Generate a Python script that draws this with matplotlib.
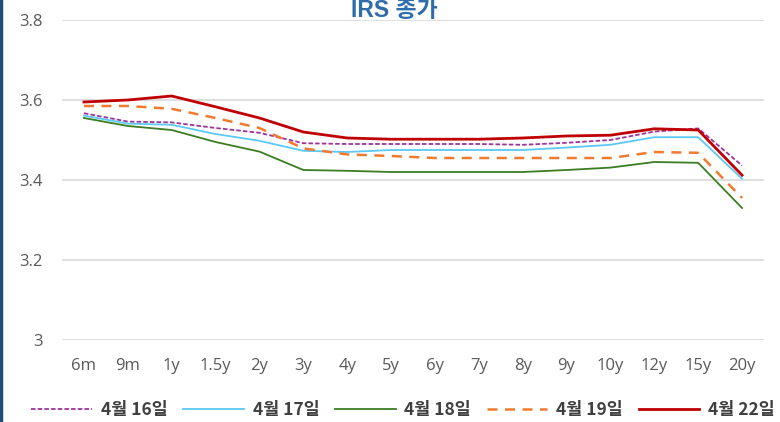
import matplotlib
matplotlib.use("Agg")
import matplotlib.pyplot as plt
from matplotlib.lines import Line2D

plt.rcParams['font.family'] = ['Open Sans', 'Noto Sans CJK KR', 'DejaVu Sans']

tenors = ["6m", "9m", "1y", "1.5y", "2y", "3y", "4y", "5y", "6y", "7y", "8y", "9y", "10y", "12y", "15y", "20y"]

apr16 = [3.567, 3.546, 3.544, 3.530, 3.518, 3.492, 3.490, 3.490, 3.490, 3.490, 3.488, 3.493, 3.500, 3.521, 3.529, 3.436]
apr17 = [3.561, 3.541, 3.538, 3.515, 3.498, 3.473, 3.470, 3.475, 3.475, 3.475, 3.475, 3.481, 3.488, 3.507, 3.507, 3.403]
apr18 = [3.555, 3.535, 3.525, 3.495, 3.471, 3.425, 3.423, 3.420, 3.420, 3.420, 3.420, 3.425, 3.431, 3.445, 3.443, 3.330]
apr19 = [3.585, 3.585, 3.578, 3.555, 3.530, 3.479, 3.464, 3.460, 3.455, 3.455, 3.455, 3.455, 3.455, 3.470, 3.468, 3.355]
apr22 = [3.595, 3.600, 3.610, 3.583, 3.555, 3.520, 3.505, 3.502, 3.502, 3.502, 3.505, 3.510, 3.512, 3.528, 3.525, 3.412]

labels = ["4월 16일", "4월 17일", "4월 18일", "4월 19일", "4월 22일"]
yticks = [3.0, 3.2, 3.4, 3.6, 3.8]
ytick_labels = ["3", "3.2", "3.4", "3.6", "3.8"]

fig = plt.figure(figsize=(7.8, 4.22), dpi=100)
ax = fig.add_axes([62/780, (422-340)/422, (764-62)/780, 320/422])

x = list(range(len(tenors)))
styles = [
    dict(color="#A0329E", lw=1.3, ls=(0, (2.5, 1.2))),
    dict(color="#5BC8F5", lw=1.3, ls="-"),
    dict(color="#3A7D22", lw=1.3, ls="-"),
    dict(color="#F07A30", lw=1.8, ls=(0, (4, 3))),
    dict(color="#C00000", lw=2.0, ls="-"),
]
series = [apr16, apr17, apr18, apr19, apr22]
for s, st, lab in zip(series, styles, labels):
    ax.plot(x, s, label=lab, **st)

ax.set_xlim(-0.5, len(tenors) - 0.5)
ax.set_ylim(3.0, 3.8)
ax.set_yticks(yticks)
ax.set_yticklabels(ytick_labels)
ax.set_xticks(x)
ax.set_xticklabels(tenors)
ax.grid(axis="y", color="#D9D9D9", lw=1.2)
ax.set_axisbelow(True)
for sp in ax.spines.values():
    sp.set_visible(False)
ax.tick_params(axis="both", length=0, colors="#595959", labelsize=12)
ax.tick_params(axis="y", pad=14)
ax.tick_params(axis="x", pad=13)

handles = [Line2D([0], [0], **st) for st in styles]
fig.legend(handles, labels, loc="center", bbox_to_anchor=(403/780, (422-410)/422),
           ncol=5, frameon=False, handlelength=3.5, columnspacing=0.9, handletextpad=0.5,
           prop=dict(family=['Noto Sans CJK KR'], weight="bold", size=12.5), labelcolor="#404040")

fig.text(394/780, (422-17)/422, "IRS 종가", ha="center", va="baseline",
         fontsize=16.5, fontweight="bold", color="#2E6DAA",
         family=['Liberation Sans', 'Noto Sans CJK KR'])

fig.add_artist(Line2D([1/780, 1/780], [0, 1], transform=fig.transFigure, color="#1F4E79", lw=2.5))

fig.savefig("out.png", dpi=100)
